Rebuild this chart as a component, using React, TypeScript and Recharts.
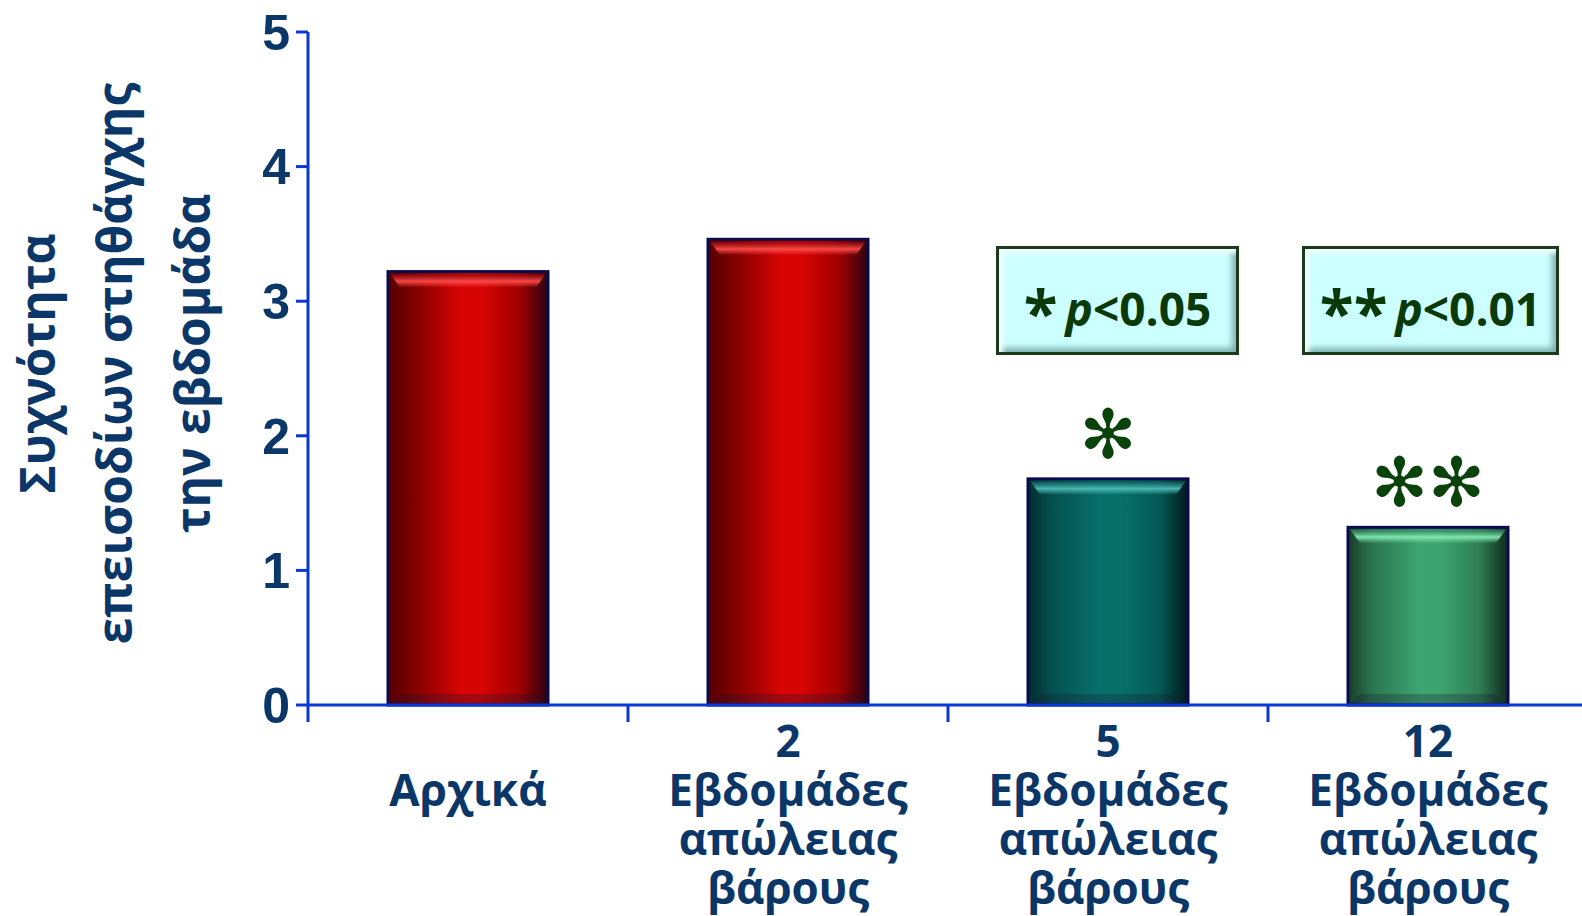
import React from 'react';
import { BarChart, Bar, XAxis, YAxis, LabelList } from 'recharts';

// weekly angina episodes at baseline and after 2, 5, 12 weeks of weight loss
const categories = ['Αρχικά', '2 Εβδομάδες', '5 Εβδομάδες', '12 Εβδομάδες'];
const categoryLines = [
  ['', 'Αρχικά'],
  ['2', 'Εβδομάδες', 'απώλειας', 'βάρους'],
  ['5', 'Εβδομάδες', 'απώλειας', 'βάρους'],
  ['12', 'Εβδομάδες', 'απώλειας', 'βάρους'],
];
const episodesPerWeek = [3.22, 3.46, 1.68, 1.32];
const significance = ['', '', '✻', '✻✻'];
const yTicks = [0, 1, 2, 3, 4, 5];
const yTitleLines = ['Συχνότητα', 'επεισοδίων στηθάγχης', 'την εβδομάδα'];
const pNotes = [
  { stars: '*', text: '<0.05' },
  { stars: '**', text: '<0.01' },
];

const data = categories.map((name, i) => ({
  name,
  value: episodesPerWeek[i],
  mark: significance[i],
}));

const palette = [
  { stops: ['#560000', '#7c0000', '#d60404', '#d80404', '#a00000', '#2a0010'], hi: '#ff4a4a' },
  { stops: ['#560000', '#7c0000', '#d60404', '#d80404', '#a00000', '#2a0010'], hi: '#ff4a4a' },
  { stops: ['#022c2e', '#04504f', '#08706c', '#077068', '#045a55', '#00181b'], hi: '#4fbcb6' },
  { stops: ['#183c28', '#2a7550', '#3da571', '#3ca470', '#2e7e53', '#0e2a1c'], hi: '#84ecb4' },
];
const stopOffsets = ['0%', '15%', '45%', '58%', '82%', '100%'];

const AXIS_BLUE = '#0b37d6';
const NAVY = '#0b3668';
const MARK_GREEN = '#0a420c';

const BevelBar = (props: any) => {
  const { x, y, width, height, index } = props;
  if (!height || height <= 0) return null;
  const b = 10;
  const l = x + 2;
  const r = x + width - 2;
  const t = y + 2;
  const bt = y + height - 1;
  return (
    <g>
      <rect x={x} y={y} width={width} height={height} fill={`url(#barGrad${index})`} stroke="#0a0a4e" strokeWidth={3} />
      <polygon
        points={`${l},${t} ${r},${t} ${r - b},${t + b + 4} ${l + b},${t + b + 4}`}
        fill={`url(#topGrad${index})`}
      />
      <polygon
        points={`${l + b},${bt - b} ${r - b},${bt - b} ${r},${bt} ${l},${bt}`}
        fill="rgba(30,20,50,0.28)"
      />
    </g>
  );
};

// category label stacked as tspans, plus the band-boundary tick mark
const CategoryTick = (props: any) => {
  const { x, y, payload } = props;
  const idx = categories.indexOf(payload.value);
  const lines = categoryLines[idx] ?? [];
  const half = payload.offset ?? 160;
  return (
    <g>
      <line x1={x - half} y1={y} x2={x - half} y2={y + 17} stroke={AXIS_BLUE} strokeWidth={3} />
      <text
        x={x}
        y={y + 52}
        textAnchor="middle"
        fill={NAVY}
        fontFamily="'Open Sans', sans-serif"
        fontWeight={700}
        fontSize={44}
      >
        {lines.map((ln, i) => (
          <tspan key={i} x={x} y={y + 52 + i * 49}>
            {ln}
          </tspan>
        ))}
      </text>
    </g>
  );
};

const renderYTitle = (props: any) => {
  const vb = props.viewBox ?? { x: 0, y: 32, width: 308, height: 673 };
  const cy = vb.y + vb.height / 2 - 5;
  const baselines = [55, 132, 210];
  return (
    <g>
      {yTitleLines.map((ln, i) => (
        <text
          key={i}
          x={vb.x + baselines[i]}
          y={cy}
          transform={`rotate(-90, ${vb.x + baselines[i]}, ${cy})`}
          textAnchor="middle"
          fill={NAVY}
          fontFamily="'Open Sans', sans-serif"
          fontWeight={700}
          fontSize={48}
        >
          {ln}
        </text>
      ))}
    </g>
  );
};

const renderMark = (props: any) => {
  const { x, y, width, value } = props;
  if (!value) return null;
  return (
    <text
      x={x + width / 2}
      y={y - 21}
      textAnchor="middle"
      fill={MARK_GREEN}
      fontFamily="'DejaVu Sans', sans-serif"
      fontSize={68}
    >
      {value}
    </text>
  );
};

const boxPos = [
  { left: 996, width: 243 },
  { left: 1302, width: 257 },
];

export default function App() {
  return (
    <div style={{ position: 'absolute', left: 0, top: 0, width: 1582, height: 916, overflow: 'hidden', background: '#fff' }}>
      <BarChart
        width={1600}
        height={916}
        data={data}
        margin={{ top: 32, right: 12, bottom: 0, left: 0 }}
        barCategoryGap="25%"
      >
        <defs>
          {palette.map((p, i) => (
            <React.Fragment key={i}>
              <linearGradient id={`barGrad${i}`} x1="0" y1="0" x2="1" y2="0">
                {p.stops.map((c, j) => (
                  <stop key={j} offset={stopOffsets[j]} stopColor={c} />
                ))}
              </linearGradient>
              <linearGradient id={`topGrad${i}`} x1="0" y1="0" x2="0" y2="1">
                <stop offset="0%" stopColor={p.stops[1]} stopOpacity={0.6} />
                <stop offset="55%" stopColor={p.hi} stopOpacity={0.95} />
                <stop offset="100%" stopColor={p.hi} stopOpacity={0} />
              </linearGradient>
            </React.Fragment>
          ))}
        </defs>
        <XAxis
          dataKey="name"
          height={211}
          interval={0}
          tickLine={false}
          tickSize={0}
          tickMargin={0}
          axisLine={{ stroke: AXIS_BLUE, strokeWidth: 3 }}
          tick={<CategoryTick />}
        />
        <YAxis
          width={308}
          domain={[0, 5]}
          ticks={yTicks}
          interval={0}
          tickSize={12}
          tickMargin={6}
          axisLine={{ stroke: AXIS_BLUE, strokeWidth: 3 }}
          tickLine={{ stroke: AXIS_BLUE, strokeWidth: 3 }}
          tick={{ fill: NAVY, fontSize: 50, fontWeight: 700, fontFamily: "'Liberation Sans', Arial, sans-serif" }}
          label={{ content: renderYTitle }}
        />
        <Bar dataKey="value" shape={<BevelBar />} isAnimationActive={false}>
          <LabelList dataKey="mark" content={renderMark} />
        </Bar>
      </BarChart>
      {pNotes.map((n, i) => (
        <div
          key={i}
          style={{
            position: 'absolute',
            left: boxPos[i].left,
            top: 246,
            width: boxPos[i].width,
            height: 109,
            boxSizing: 'border-box',
            border: '3px solid #1c3a1c',
            background: '#ccffff',
            boxShadow: 'inset 7px 7px 5px -3px #f2ffff, inset -7px -7px 6px -3px #7eb0b0',
            display: 'flex',
            alignItems: 'center',
            justifyContent: 'center',
            paddingTop: 14,
            fontFamily: "'Open Sans', sans-serif",
            fontWeight: 700,
            fontSize: 46,
            color: '#0a3a0a',
            whiteSpace: 'nowrap',
          }}
        >
          <span style={{ fontSize: 62, lineHeight: 1, marginRight: 8, position: 'relative', top: 4 }}>{n.stars}</span>
          <span>
            <i>p</i>
            {n.text}
          </span>
        </div>
      ))}
    </div>
  );
}
